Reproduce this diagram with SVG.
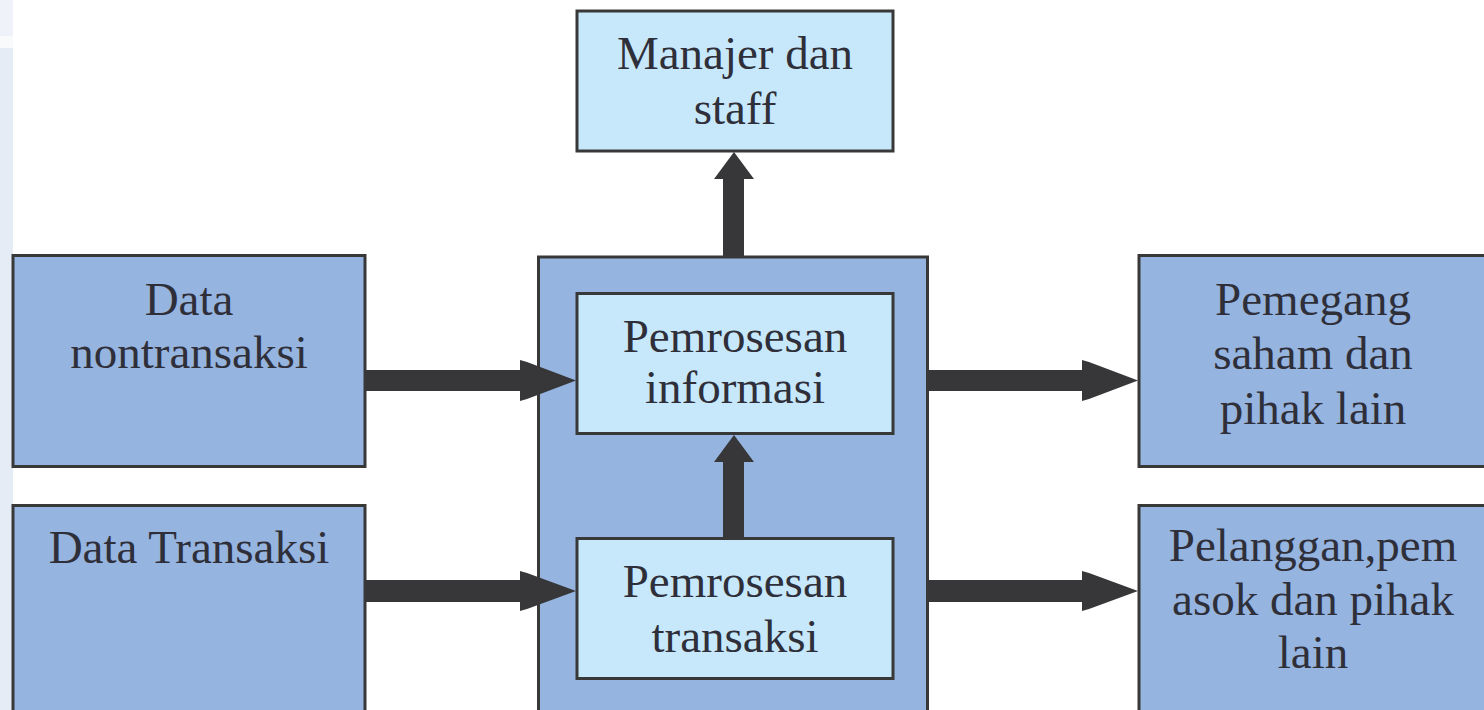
<svg xmlns="http://www.w3.org/2000/svg" width="1484" height="710" viewBox="0 0 1484 710">
  <style>
    .outer { fill: #95b4df; stroke: #383838; stroke-width: 3; }
    .inner { fill: #c6e8fa; stroke: #383838; stroke-width: 3; }
    .lbl { font-size: 47px; fill: #2f2f3a; text-anchor: middle; }
    .arrow { fill: #373739; }
  </style>
  <rect x="0" y="0" width="1484" height="710" fill="#ffffff"/>
  <rect x="0" y="0" width="13" height="36" fill="#eff3f9"/>
  <rect x="0" y="36" width="13" height="12" fill="#f8fafc"/>
  <rect x="0" y="48" width="13" height="662" fill="#e6ecf5"/>

  <g font-family="Liberation Serif, DejaVu Serif, serif">
  <g id="node-data-nontransaksi">
    <rect class="outer" x="13" y="255.5" width="352" height="211"/>
    <text class="lbl" x="189" y="315">Data</text>
    <text class="lbl" x="189" y="368">nontransaksi</text>
  </g>
  <g id="node-data-transaksi">
    <rect class="outer" x="13" y="505.5" width="352" height="220"/>
    <text class="lbl" x="189" y="563">Data Transaksi</text>
  </g>
  <g id="node-sistem">
    <rect class="outer" x="538.5" y="257" width="389" height="470"/>
  </g>
  <g id="node-manajer">
    <rect class="inner" x="577" y="11" width="316" height="140"/>
    <text class="lbl" x="735" y="69">Manajer dan</text>
    <text class="lbl" x="735" y="124">staff</text>
  </g>
  <g id="node-pemrosesan-informasi">
    <rect class="inner" x="577" y="293.5" width="316" height="140"/>
    <text class="lbl" x="735" y="352">Pemrosesan</text>
    <text class="lbl" x="735" y="403">informasi</text>
  </g>
  <g id="node-pemrosesan-transaksi">
    <rect class="inner" x="577" y="538.5" width="316" height="140"/>
    <text class="lbl" x="735" y="597">Pemrosesan</text>
    <text class="lbl" x="735" y="652">transaksi</text>
  </g>
  <g id="node-pemegang-saham">
    <rect class="outer" x="1139" y="255.5" width="350" height="211"/>
    <text class="lbl" x="1313" y="315">Pemegang</text>
    <text class="lbl" x="1313" y="369">saham dan</text>
    <text class="lbl" x="1313" y="424">pihak lain</text>
  </g>
  <g id="node-pelanggan">
    <rect class="outer" x="1139" y="505.5" width="350" height="220"/>
    <text class="lbl" x="1313" y="561">Pelanggan,pem</text>
    <text class="lbl" x="1313" y="615">asok dan pihak</text>
    <text class="lbl" x="1313" y="668">lain</text>
  </g>
  </g>

  <g id="connectors">
    <rect class="arrow" x="366" y="370" width="157" height="21"/>
    <path class="arrow" d="M520,360 L527,362 L576,380.5 L527,399 L520,401 Z"/>
    <rect class="arrow" x="366" y="580" width="157" height="22"/>
    <path class="arrow" d="M520,571 L527,573 L576,591 L527,609 L520,611 Z"/>
    <rect class="arrow" x="928" y="370" width="157" height="21"/>
    <path class="arrow" d="M1082,360 L1089,362 L1138,380.5 L1089,399 L1082,401 Z"/>
    <rect class="arrow" x="928" y="580" width="157" height="22"/>
    <path class="arrow" d="M1082,571 L1089,573 L1138,591 L1089,609 L1082,611 Z"/>
    <rect class="arrow" x="723" y="176" width="21" height="82"/>
    <path class="arrow" d="M714,179 L734,152 L754,179 Z"/>
    <rect class="arrow" x="723" y="460" width="21" height="78"/>
    <path class="arrow" d="M714,462 L734,435 L754,462 Z"/>
  </g>
</svg>
